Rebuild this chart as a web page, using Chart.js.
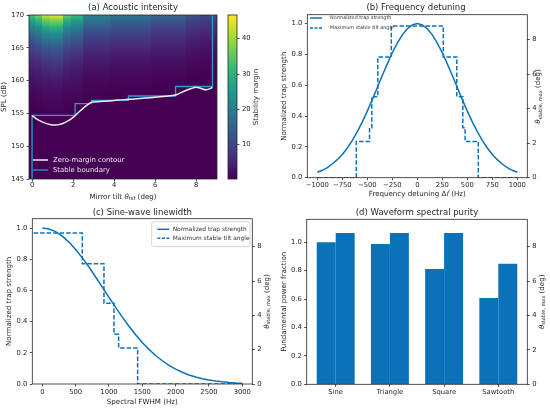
<!DOCTYPE html>
<html><head><meta charset="utf-8">
<script src="https://cdn.jsdelivr.net/npm/chart.js@4.4.0/dist/chart.umd.min.js"></script>
<style>
html,body{margin:0;padding:0;background:#fff;}
#wrap{position:relative;width:550px;height:408px;overflow:hidden;background:#fff;}
canvas{position:absolute;}
</style></head><body>
<div id="wrap">
<canvas id="ca" width="275" height="204" style="left:0px;top:0px"></canvas>
<canvas id="cbar" width="53" height="204" style="left:222px;top:0px"></canvas>
<canvas id="cb" width="275" height="204" style="left:275px;top:0px"></canvas>
<canvas id="cc" width="275" height="204" style="left:0px;top:204px"></canvas>
<canvas id="cd" width="275" height="204" style="left:275px;top:204px"></canvas>
</div>
<script>
// ---------------- Panel (a): acoustic intensity heatmap ----------------
const tiltEdges = [-0.15, 0.16, 0.5, 0.86, 1.5, 1.9, 2.5, 3.8, 5.8, 7.5, 8.2, 9.02];
const splNodes  = [145, 153, 154, 155, 156, 157, 158, 159, 160, 161, 162, 163, 164, 165, 166, 167, 168, 169, 170];
const margin_c0  = [0.3,0.3,0.3,0.3,0.35,0.70,1.14,1.69,2.39,3.27,4.37,5.76,7.51,9.72,12.49,15.98,20.38,25.92,32.88];
const margin_c1  = [0.3,0.3,0.3,0.3,0.51,0.91,1.40,2.02,2.80,3.79,5.03,6.59,8.55,11.02,14.14,18.05,22.99,29.20,37.02];
const margin_c2  = [0.3,0.3,0.3,0.41,0.78,1.24,1.82,2.55,3.47,4.62,6.08,7.91,10.22,13.13,16.78,21.39,27.18,34.48,43.67];
const margin_c3  = [0.3,0.3,0.3,0.48,0.86,1.34,1.95,2.72,3.68,4.89,6.41,8.33,10.75,13.79,17.62,22.44,28.51,36.15,45.77];
const margin_c4  = [0.3,0.3,0.3,0.3,0.45,0.82,1.29,1.88,2.63,3.57,4.75,6.24,8.12,10.48,13.45,17.20,21.91,27.84,35.31];
const margin_c5  = [0.3,0.3,0.3,0.3,0.3,0.62,1.04,1.57,2.24,3.07,4.13,5.46,7.13,9.23,11.88,15.22,19.42,24.70,31.36];
const margin_c6  = [0.3,0.3,0.3,0.3,0.3,0.3,0.45,0.82,1.29,1.88,2.63,3.57,4.75,6.24,8.12,10.48,13.45,17.20,21.91];
const margin_c7  = [0.3,0.3,0.3,0.3,0.3,0.3,0.3,0.58,1.00,1.51,2.16,2.98,4.01,5.31,6.94,9.00,11.59,14.85,18.95];
const margin_c8  = [0.3,0.3,0.3,0.3,0.3,0.3,0.3,0.35,0.70,1.14,1.69,2.39,3.27,4.37,5.76,7.51,9.72,12.49,15.98];
const margin_c9  = [0.3,0.3,0.3,0.3,0.3,0.3,0.3,0.3,0.3,0.62,1.04,1.57,2.24,3.07,4.13,5.46,7.13,9.23,11.88];
const margin_c10 = [0.3,0.3,0.3,0.3,0.3,0.3,0.3,0.3,0.3,0.45,0.82,1.29,1.88,2.63,3.57,4.75,6.24,8.12,10.48];
const marginColumns = [margin_c0,margin_c1,margin_c2,margin_c3,margin_c4,margin_c5,margin_c6,margin_c7,margin_c8,margin_c9,margin_c10];
const marginRange = [0.3, 46.7];
const contourTilt = [0,0.25,0.5,0.75,1.0,1.25,1.5,1.75,2.0,2.25,2.5,2.75,2.9,3.5,4.0,4.5,5.0,5.5,6.0,6.5,7.0,7.5,8.0,8.25,8.5,8.8];
const contourSpl  = [154.65,154.1,153.7,153.4,153.25,153.25,153.45,153.85,154.4,155.1,155.8,156.4,156.7,156.85,156.95,157.1,157.2,157.35,157.45,157.6,157.8,158.5,159.0,158.8,158.6,158.95];
const boundaryTilt = [0, 2.1, 2.9, 4.7, 7.0, 8.8, 8.8];
const boundarySpl  = [145, 154.7, 156.5, 157.0, 157.65, 159.1, 170];
const tiltTicks = [0,2,4,6,8];
const splTicks = [145,150,155,160,165,170];
const marginTicks = [10,20,30,40];

// ---------------- Panel (b): frequency detuning ----------------
const detuning = [-1000,-950,-900,-850,-800,-750,-700,-650,-600,-550,-500,-450,-400,-350,-300,-250,-200,-150,-100,-50,0,50,100,150,200,250,300,350,400,450,500,550,600,650,700,750,800,850,900,950,1000];
const strengthB = [0.035,0.048,0.066,0.089,0.117,0.151,0.193,0.242,0.299,0.362,0.432,0.507,0.585,0.663,0.739,0.811,0.874,0.927,0.967,0.992,1.000,0.992,0.967,0.927,0.874,0.811,0.739,0.663,0.585,0.507,0.432,0.362,0.299,0.242,0.193,0.151,0.117,0.089,0.066,0.048,0.035];
const stepDetuning = [-1000,-610,-478,-455,-395,-260,260,395,455,478,610,1000];
const stepTiltB    = [0,2.1,2.9,4.7,7.0,8.8,7.0,4.7,2.9,2.1,0,0];
const detuningTicks = [-1000,-750,-500,-250,0,250,500,750,1000];

// ---------------- Panel (c): sine-wave linewidth ----------------
const fwhm = [0,100,200,300,400,500,600,700,800,900,1000,1100,1200,1300,1400,1500,1600,1700,1800,1900,2000,2100,2200,2300,2400,2500,2600,2700,2800,2900,3000];
const strengthC = [1.000,0.994,0.977,0.948,0.910,0.863,0.809,0.750,0.686,0.621,0.555,0.491,0.429,0.370,0.316,0.266,0.222,0.183,0.149,0.120,0.095,0.075,0.058,0.045,0.034,0.025,0.019,0.014,0.010,0.007,0.005];
const stepFwhm  = [-130,600,925,1075,1145,1430,3000];
const stepTiltC = [8.8,7.0,4.7,2.9,2.1,0,0];
const fwhmTicks = [0,500,1000,1500,2000,2500,3000];

// ---------------- Panel (d): waveform spectral purity ----------------
const waveforms = ['Sine','Triangle','Square','Sawtooth'];
const fundamentalFraction = [1.000,0.988,0.812,0.608];
const waveformTilt = [8.8,8.8,8.8,7.0];

const strengthTicks = [0,0.2,0.4,0.6,0.8,1.0];
const angleTicks = [0,2,4,6,8];

// ---------------- styling helpers ----------------
const FONT = "'DejaVu Sans', 'Liberation Sans', sans-serif";
const TICK = 6.8, LABEL = 7.1, TITLE = 8.5;
Chart.defaults.font.family = FONT;
Chart.defaults.font.size = TICK;
Chart.defaults.color = '#222';
const INK = '#262626';
const BLUE = '#0b72b9';
const BLUE2 = '#2b9ad8';
const VIRIDIS = ['#440154','#482878','#3e4989','#31688e','#26828e','#1f9e89','#35b779','#6ece58','#b5de2b','#fde725'];

function hex2rgb(h){return [parseInt(h.slice(1,3),16),parseInt(h.slice(3,5),16),parseInt(h.slice(5,7),16)];}
const VIR_RGB = VIRIDIS.map(hex2rgb);
function marginColor(v){
  let t = (v - marginRange[0])/(marginRange[1]-marginRange[0]);
  t = Math.max(0, Math.min(1, t));
  const p = t*(VIR_RGB.length-1); const i = Math.min(VIR_RGB.length-2, Math.floor(p)); const f = p - i;
  const a = VIR_RGB[i], b = VIR_RGB[i+1];
  return 'rgb(' + [0,1,2].map(k => Math.round(a[k]+(b[k]-a[k])*f)).join(',') + ')';
}

function linAxis(o){
  return {
    type:'linear', position:o.position, min:o.min, max:o.max, offset:false,
    afterBuildTicks: s => { s.ticks = o.ticks.map(v => ({value:v})); },
    afterFit: o.h !== undefined ? (s => { s.height = o.h; }) : (s => { s.width = o.w; }),
    grid:{display:true, drawOnChartArea:false, drawTicks:true, tickLength:2.5, color:INK, lineWidth:0.8, offset:false},
    border:{display:false},
    ticks:{padding: o.pad === undefined ? 2.4 : o.pad, color:INK, font:{size:TICK, lineHeight:1}, autoSkip:false, maxRotation:0, minRotation:0,
           callback: o.fmt || (v => String(v))},
    title: o.title ? {display:true, text:o.title, color:INK, font:{size:LABEL, lineHeight:1.2}, padding:o.titlePad} : {display:false}
  };
}
const fmt1 = v => Number(v).toFixed(1);
const fmtMinus = v => String(v).replace('-', '\u2212');

function drawText(ctx, text, x, y, size, color){
  ctx.save(); ctx.font = size + 'px ' + FONT; ctx.fillStyle = color || INK;
  ctx.textAlign = 'center'; ctx.textBaseline = 'middle'; ctx.fillText(text, x, y); ctx.restore();
}
function drawRich(ctx, segs, cx, cy, size, rot, color){
  ctx.save(); ctx.translate(cx, cy); if (rot) ctx.rotate(rot);
  ctx.fillStyle = color || INK; ctx.textBaseline = 'middle'; ctx.textAlign = 'left';
  const fontFor = s => (s.it ? 'italic ' : '') + (s.sub ? size*0.7 : size) + 'px ' + FONT;
  let w = 0;
  const ws = segs.map(s => { ctx.font = fontFor(s); const m = ctx.measureText(s.t).width; w += m; return m; });
  let x = -w/2;
  segs.forEach((s,i) => { ctx.font = fontFor(s); ctx.fillText(s.t, x, s.sub ? size*0.28 : 0); x += ws[i]; });
  ctx.restore();
}
function legendRow(ctx, o){
  ctx.save();
  ctx.strokeStyle = o.color; ctx.lineWidth = o.lw; ctx.setLineDash(o.dash || []);
  ctx.beginPath(); ctx.moveTo(o.x0, o.y); ctx.lineTo(o.x1, o.y); ctx.stroke();
  ctx.setLineDash([]);
  ctx.fillStyle = o.tcolor || INK; ctx.font = o.size + 'px ' + FONT;
  ctx.textBaseline = 'middle'; ctx.textAlign = 'left';
  ctx.fillText(o.text, o.tx, o.y);
  ctx.restore();
}
function framePlugin(under, over){
  return {
    id:'frameDecor',
    beforeDatasetsDraw(chart){ if (under) under(chart); },
    afterDatasetsDraw(chart){
      const {ctx, chartArea:a} = chart;
      ctx.save(); ctx.strokeStyle = INK; ctx.lineWidth = 0.8;
      ctx.strokeRect(a.left, a.top, a.right-a.left, a.bottom-a.top); ctx.restore();
    },
    afterDraw(chart){ if (over) over(chart); }
  };
}
const thetaStable = [{t:'\u03B8', it:true},{t:'stable, max', sub:true},{t:' (deg)'}];
const baseOpts = {responsive:false, animation:false, events:[]};
const noPlug = {legend:{display:false}, tooltip:{enabled:false}, title:{display:false}};

// ---------------- Chart (a) ----------------
function drawHeatmap(chart){
  const {ctx, chartArea:a, scales:{x, y}} = chart;
  ctx.save();
  ctx.beginPath(); ctx.rect(a.left, a.top, a.right-a.left, a.bottom-a.top); ctx.clip();
  for (let c = 0; c < marginColumns.length; c++){
    const col = marginColumns[c];
    const x0 = Math.round(x.getPixelForValue(tiltEdges[c])), x1 = Math.round(x.getPixelForValue(tiltEdges[c+1]));
    for (let j = 0; j < splNodes.length-1; j++){
      const yb = y.getPixelForValue(splNodes[j]), yt = y.getPixelForValue(splNodes[j+1]);
      const g = ctx.createLinearGradient(0, yb, 0, yt);
      g.addColorStop(0, marginColor(col[j])); g.addColorStop(1, marginColor(col[j+1]));
      ctx.fillStyle = g;
      const ybr = Math.round(yb), ytr = Math.round(yt);
      ctx.fillRect(x0, ytr, x1-x0, ybr-ytr);
    }
  }
  ctx.restore();
}
new Chart(document.getElementById('ca'), {
  type:'line',
  data:{datasets:[
    {label:'Zero-margin contour', data:contourTilt.map((x,i)=>({x, y:contourSpl[i]})), borderColor:'#f3ecf3', borderWidth:1.5, pointRadius:0, tension:0.3, fill:false},
    {label:'Stable boundary', data:boundaryTilt.map((x,i)=>({x, y:boundarySpl[i]})), borderColor:BLUE2, borderWidth:1.3, pointRadius:0, stepped:'after', fill:false}
  ]},
  options:Object.assign({}, baseOpts, {
    layout:{padding:{left:0, right:58, top:15, bottom:0}},
    plugins:noPlug,
    scales:{
      x: linAxis({position:'bottom', min:-0.15, max:9.02, ticks:tiltTicks, h:25, pad:0.8}),
      y: linAxis({position:'left', min:145, max:170, ticks:splTicks, w:29, title:'SPL (dB)', titlePad:{top:0.3, bottom:0}})
    }
  }),
  plugins:[framePlugin(drawHeatmap, chart => {
    const ctx = chart.ctx, ds = chart.data.datasets;
    drawText(ctx, '(a) Acoustic intensity', 133, 7.3, TITLE);
    drawRich(ctx, [{t:'Mirror tilt '},{t:'\u03B8', it:true},{t:'tilt', sub:true, it:true},{t:' (deg)'}], 123, 196.7, LABEL, 0);
    legendRow(ctx, {x0:33, x1:48, y:160, color:ds[0].borderColor, lw:1.5, text:ds[0].label, tx:53, size:6.9, tcolor:'#f0eaf0'});
    legendRow(ctx, {x0:33, x1:48, y:170, color:ds[1].borderColor, lw:1.3, text:ds[1].label, tx:53, size:6.9, tcolor:'#f0eaf0'});
  })]
});

// ---------------- Colorbar ----------------
new Chart(document.getElementById('cbar'), {
  type:'line',
  data:{datasets:[]},
  options:Object.assign({}, baseOpts, {
    layout:{padding:{left:6, right:0, top:15, bottom:25}},
    plugins:noPlug,
    scales:{
      x:{display:false},
      y: linAxis({position:'right', min:marginRange[0], max:marginRange[1], ticks:marginTicks, w:38})
    }
  }),
  plugins:[framePlugin(chart => {
    const {ctx, chartArea:a, scales:{y}} = chart;
    const g = ctx.createLinearGradient(0, y.getPixelForValue(marginRange[0]), 0, y.getPixelForValue(marginRange[1]));
    VIRIDIS.forEach((c,i) => g.addColorStop(i/(VIRIDIS.length-1), c));
    ctx.save(); ctx.fillStyle = g; ctx.fillRect(a.left, a.top, a.right-a.left, a.bottom-a.top); ctx.restore();
  }, chart => {
    drawRich(chart.ctx, [{t:'Stability margin'}], 34, 97, LABEL, -Math.PI/2);
  })]
});

// ---------------- Chart (b) ----------------
new Chart(document.getElementById('cb'), {
  type:'line',
  data:{datasets:[
    {label:'Normalized trap strength', data:detuning.map((x,i)=>({x, y:strengthB[i]})), yAxisID:'y', borderColor:BLUE, borderWidth:1.5, pointRadius:0, tension:0, fill:false},
    {label:'Maximum stable tilt angle', data:stepDetuning.map((x,i)=>({x, y:stepTiltB[i]})), yAxisID:'y1', borderColor:BLUE, borderWidth:1.5, borderDash:[4.5,2], pointRadius:0, stepped:true, fill:false}
  ]},
  options:Object.assign({}, baseOpts, {
    layout:{padding:{left:0, right:0, top:14.7, bottom:0}},
    plugins:noPlug,
    scales:{
      x: linAxis({position:'bottom', min:-1100, max:1100, ticks:detuningTicks, h:26.3, pad:1.4, fmt:fmtMinus}),
      y: linAxis({position:'left', min:0, max:1.058, ticks:strengthTicks, w:32.3, fmt:fmt1, title:'Normalized trap strength', titlePad:{top:4.7, bottom:0}}),
      y1: linAxis({position:'right', min:0, max:9.45, ticks:angleTicks, w:22.7})
    }
  }),
  plugins:[framePlugin(null, chart => {
    const ctx = chart.ctx, ds = chart.data.datasets;
    drawText(ctx, '(b) Frequency detuning', 141, 7.3, TITLE);
    drawRich(ctx, [{t:'Frequency detuning \u0394'},{t:'f', it:true},{t:' (Hz)'}], 142.3, 194.3, LABEL, 0);
    drawRich(ctx, thetaStable, 263.5, 96.5, LABEL, -Math.PI/2);
    legendRow(ctx, {x0:35, x1:47, y:18, color:BLUE, lw:1.5, text:ds[0].label, tx:55, size:4.9, tcolor:'#333'});
    legendRow(ctx, {x0:35, x1:47, y:28, color:BLUE, lw:1.5, dash:[3,1.5], text:ds[1].label, tx:55, size:4.9, tcolor:'#333'});
  })]
});

// ---------------- Chart (c) ----------------
new Chart(document.getElementById('cc'), {
  type:'line',
  data:{datasets:[
    {label:'Normalized trap strength', data:fwhm.map((x,i)=>({x, y:strengthC[i]})), yAxisID:'y', borderColor:BLUE, borderWidth:1.5, pointRadius:0, tension:0, fill:false},
    {label:'Maximum stable tilt angle', data:stepFwhm.map((x,i)=>({x, y:stepTiltC[i]})), yAxisID:'y1', borderColor:BLUE, borderWidth:1.5, borderDash:[4.5,2], pointRadius:0, stepped:true, fill:false}
  ]},
  options:Object.assign({}, baseOpts, {
    layout:{padding:{left:0, right:0, top:14.7, bottom:0}},
    plugins:noPlug,
    scales:{
      x: linAxis({position:'bottom', min:-150, max:3150, ticks:fwhmTicks, h:24, pad:2.4, title:'Spectral FWHM (Hz)', titlePad:{top:0, bottom:1.4}}),
      y: linAxis({position:'left', min:0, max:1.06, ticks:strengthTicks, w:32.3, fmt:fmt1, title:'Normalized trap strength', titlePad:{top:4.7, bottom:0}}),
      y1: linAxis({position:'right', min:0, max:9.63, ticks:angleTicks, w:22.7})
    }
  }),
  plugins:[framePlugin(null, chart => {
    const ctx = chart.ctx, ds = chart.data.datasets;
    drawText(ctx, '(c) Sine-wave linewidth', 142.3, 8.5, TITLE);
    drawRich(ctx, thetaStable, 266.7, 97.4, LABEL, -Math.PI/2);
    ctx.save();
    ctx.fillStyle = 'rgba(255,255,255,0.85)'; ctx.strokeStyle = '#cccccc'; ctx.lineWidth = 0.8;
    ctx.beginPath(); ctx.roundRect(151.7, 17.7, 98.3, 25, 2); ctx.fill(); ctx.stroke();
    ctx.restore();
    legendRow(ctx, {x0:157.3, x1:169.3, y:25.3, color:BLUE, lw:1.5, text:ds[0].label, tx:172.7, size:5.9, tcolor:'#333'});
    legendRow(ctx, {x0:157.3, x1:169.3, y:34.3, color:BLUE, lw:1.5, dash:[3,1.5], text:ds[1].label, tx:172.7, size:5.9, tcolor:'#333'});
  })]
});

// ---------------- Chart (d) ----------------
new Chart(document.getElementById('cd'), {
  type:'bar',
  data:{datasets:[
    {label:'Fundamental power fraction', data:waveforms.map((w,i)=>({x:i, y:fundamentalFraction[i]})), yAxisID:'y', backgroundColor:BLUE, borderWidth:0, categoryPercentage:0.7, barPercentage:1.0},
    {label:'Maximum stable tilt angle', data:waveforms.map((w,i)=>({x:i, y:waveformTilt[i]})), yAxisID:'y1', backgroundColor:BLUE, borderWidth:0, categoryPercentage:0.7, barPercentage:1.0}
  ]},
  options:Object.assign({}, baseOpts, {
    layout:{padding:{left:0, right:0, top:15.3, bottom:0}},
    plugins:noPlug,
    scales:{
      x: linAxis({position:'bottom', min:-0.535, max:3.535, ticks:[0,1,2,3], h:23.7, pad:2.1, fmt:v => waveforms[v]}),
      y: linAxis({position:'left', min:0, max:1.162, ticks:strengthTicks, w:31.7, fmt:fmt1, title:'Fundamental power fraction', titlePad:{top:4.7, bottom:0}}),
      y1: linAxis({position:'right', min:0, max:9.59, ticks:angleTicks, w:22.7})
    }
  }),
  plugins:[framePlugin(null, chart => {
    const ctx = chart.ctx;
    drawText(ctx, '(d) Waveform spectral purity', 142, 9, TITLE);
    drawRich(ctx, thetaStable, 266.7, 97.8, LABEL, -Math.PI/2);
  })]
});
</script>
</body></html>
